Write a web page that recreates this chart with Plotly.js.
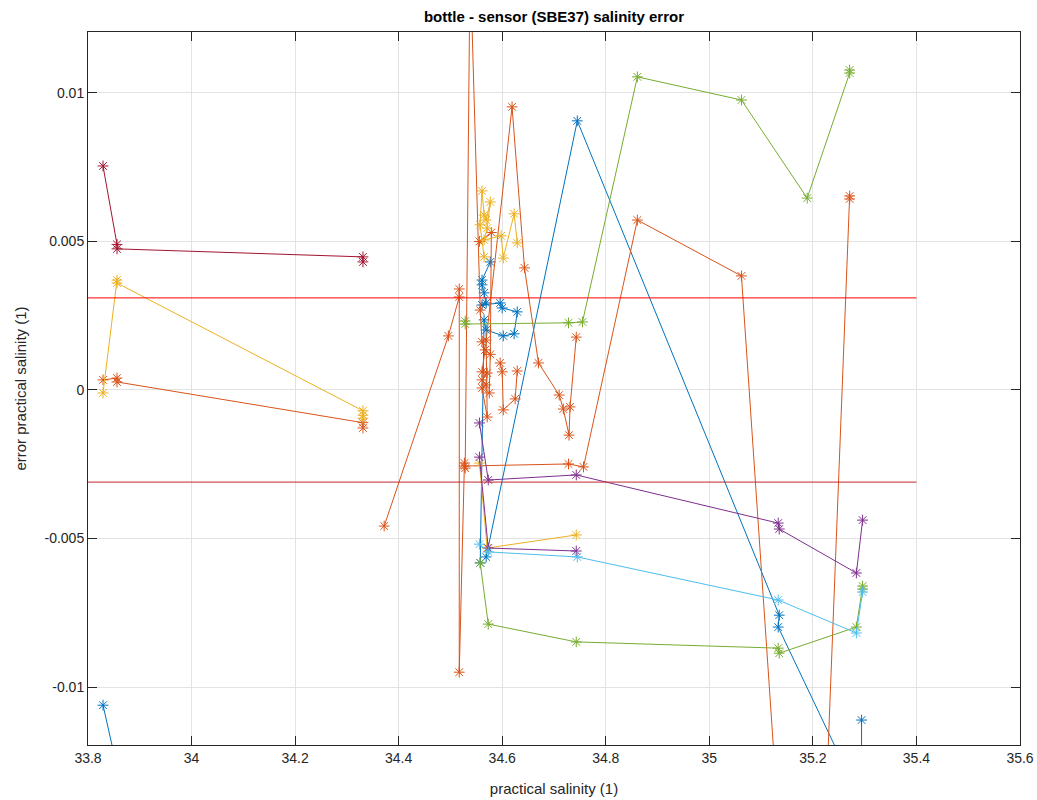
<!DOCTYPE html>
<html>
<head>
<meta charset="utf-8">
<script src="https://cdn.plot.ly/plotly-3.0.1.min.js"></script>
<style>html,body{margin:0;padding:0;background:#fff}#chart{width:1037px;height:800px}</style>
</head>
<body>
<div id="chart"></div>
<script>
// ---- data (practical salinity, salinity error) ----
const darkRedX = [33.829, 33.856, 33.856, 34.331, 34.331];
const darkRedY = [0.00754, 0.00490, 0.00475, 0.00448, 0.00431];

const yellowLeftX = [33.829, 33.856, 33.856, 34.331, 34.331, 34.331];
const yellowLeftY = [-0.00010, 0.00370, 0.00360, -0.00070, -0.00085, -0.00095];

const orangeLeftX = [33.829, 33.856, 33.856, 34.331, 34.331];
const orangeLeftY = [0.00034, 0.00040, 0.00027, -0.00110, -0.00128];

const orangeAX = [34.372, 34.496, 34.517, 34.517, 34.517, 34.527, 34.527, 34.728, 34.757, 34.861, 35.062, 35.191, 35.271, 35.271];
const orangeAY = [-0.00458, 0.00182, 0.00313, 0.00340, -0.00950, -0.00246, -0.00256, -0.00249, -0.00259, 0.00572, 0.00384, -0.02930, 0.00643, 0.00653];

const orangeBX = [34.5285, 34.538, 34.5575, 34.561, 34.567, 34.561, 34.571, 34.561, 34.569, 34.561, 34.571, 34.569, 34.619, 34.643, 34.670, 34.710, 34.718, 34.729, 34.731, 34.743];
const orangeBY = [-0.00263, 0.01448, 0.00269, 0.00162, 0.00135, 0.00061, 0.00057, 0.00034, 0.00017, 0.00007, -0.00091, 0.00168, 0.00953, 0.00411, 0.00091, -0.00017, -0.00064, -0.00152, -0.00057, 0.00178];

const orangeCX = [34.596, 34.600, 34.602, 34.625, 34.629];
const orangeCY = [0.00091, 0.00061, -0.00067, -0.00030, 0.00064];

const orangeDX = [34.556, 34.579, 34.577, 34.575];
const orangeDY = [0.00500, 0.00530, 0.00120, -0.00010];

const yellowMidX = [34.565, 34.557, 34.561, 34.565, 34.569, 34.577, 34.571, 34.565, 34.598, 34.602, 34.623, 34.629];
const yellowMidY = [0.00448, 0.00556, 0.00670, 0.00589, 0.00572, 0.00633, 0.00545, 0.00505, 0.00519, 0.00444, 0.00593, 0.00495];

const yellowLowX = [34.556, 34.571, 34.743];
const yellowLowY = [-0.00246, -0.00532, -0.00488];

const blueMainX = [34.577, 34.561, 34.561, 34.565, 34.569, 34.561, 34.596, 34.600, 34.629, 34.623, 34.602, 34.569, 34.565, 34.5575, 34.569, 34.745, 35.135, 35.133, 35.294, 35.294];
const blueMainY = [0.00431, 0.00370, 0.00354, 0.00327, 0.00293, 0.00286, 0.00293, 0.00276, 0.00263, 0.00189, 0.00182, 0.00202, 0.00236, -0.00582, -0.00562, 0.00906, -0.00758, -0.00798, -0.01387, -0.01111];

const blueLeftX = [33.829, 33.856];
const blueLeftY = [-0.01061, -0.01270];

const lightBlueX = [34.556, 34.573, 34.745, 35.133, 35.284, 35.296];
const lightBlueY = [-0.00519, -0.00545, -0.00562, -0.00707, -0.00818, -0.00680];

const purpleAX = [34.556, 34.573, 34.743, 35.133, 35.135, 35.284, 35.296];
const purpleAY = [-0.00111, -0.00303, -0.00286, -0.00448, -0.00468, -0.00616, -0.00438];

const purpleBX = [34.556, 34.573, 34.743];
const purpleBY = [-0.00226, -0.00532, -0.00542];

const greenAX = [34.5285, 34.5285, 34.728, 34.755, 34.861, 35.062, 35.189, 35.271, 35.271];
const greenAY = [0.00232, 0.00222, 0.00226, 0.00229, 0.01054, 0.00976, 0.00646, 0.01067, 0.01077];

const greenBX = [34.5575, 34.573, 34.743, 35.133, 35.135, 35.284, 35.296, 35.296];
const greenBY = [-0.00582, -0.00788, -0.00848, -0.00869, -0.00886, -0.00798, -0.00660, -0.00670];

const limitX = [33.8, 35.4];
const upperLimit = 0.0031;
const lowerLimit = -0.0031;

const xTickVals = [33.8, 34, 34.2, 34.4, 34.6, 34.8, 35, 35.2, 35.4, 35.6];
const xTickText = ['33.8', '34', '34.2', '34.4', '34.6', '34.8', '35', '35.2', '35.4', '35.6'];
const yTickVals = [-0.01, -0.005, 0, 0.005, 0.01];
const yTickText = ['-0.01', '-0.005', '0', '0.005', '0.01'];

// ---- colours ----
const C = {
  blue: '#0072BD', orange: '#D95319', yellow: '#EDB120', purple: '#7E2F8E',
  green: '#77AC30', lightblue: '#4DBEEE', darkred: '#A2142F'
};

function series(x, y, color) {
  return {
    x: x, y: y, type: 'scatter', mode: 'lines+markers',
    line: {color: color, width: 1},
    marker: {symbol: 'asterisk-open', size: 9, color: color, line: {color: color, width: 1}},
    showlegend: false, hoverinfo: 'x+y', cliponaxis: true
  };
}

const traces = [
  series(blueLeftX, blueLeftY, C.blue),
  series(orangeLeftX, orangeLeftY, C.orange),
  series(yellowLeftX, yellowLeftY, C.yellow),
  series(darkRedX, darkRedY, C.darkred),
  series(blueMainX, blueMainY, C.blue),
  series(orangeAX, orangeAY, C.orange),
  series(orangeBX, orangeBY, C.orange),
  series(orangeCX, orangeCY, C.orange),
  series(orangeDX, orangeDY, C.orange),
  series(yellowMidX, yellowMidY, C.yellow),
  series(yellowLowX, yellowLowY, C.yellow),
  series(purpleAX, purpleAY, C.purple),
  series(purpleBX, purpleBY, C.purple),
  series(greenAX, greenAY, C.green),
  series(greenBX, greenBY, C.green),
  series(lightBlueX, lightBlueY, C.lightblue),
  {x: limitX, y: [upperLimit, upperLimit], type: 'scatter', mode: 'lines',
   line: {color: '#ff0000', width: 1}, showlegend: false, hoverinfo: 'skip'},
  {x: limitX, y: [lowerLimit, lowerLimit], type: 'scatter', mode: 'lines',
   line: {color: '#c0282a', width: 1}, showlegend: false, hoverinfo: 'skip'}
];

const axisCommon = {
  showline: true, linecolor: '#262626', linewidth: 1, mirror: 'ticks',
  ticks: 'inside', ticklen: 9, tickcolor: '#262626', tickwidth: 1,
  showgrid: true, gridcolor: '#e3e3e3', gridwidth: 1, zeroline: false,
  tickfont: {family: 'Liberation Sans, Arial, sans-serif', size: 14, color: '#262626'}
};

const layout = {
  width: 1037, height: 800,
  margin: {l: 88, r: 17, t: 32, b: 55, pad: 0},
  paper_bgcolor: '#ffffff', plot_bgcolor: '#ffffff',
  title: {text: '<b>bottle - sensor (SBE37) salinity error</b>', x: 0.5, xanchor: 'center', xref: 'paper',
          y: 0.979, yanchor: 'middle',
          font: {family: 'Liberation Sans, Arial, sans-serif', size: 15, color: '#000000'}},
  xaxis: Object.assign({}, axisCommon, {
    range: [33.8, 35.6], tickvals: xTickVals, ticktext: xTickText,
    title: {text: 'practical salinity (1)', standoff: 18,
            font: {family: 'Liberation Sans, Arial, sans-serif', size: 15, color: '#262626'}}
  }),
  yaxis: Object.assign({}, axisCommon, {
    range: [-0.01195, 0.01205], tickvals: yTickVals, ticktext: yTickText,
    title: {text: 'error practical salinity (1)', standoff: 14,
            font: {family: 'Liberation Sans, Arial, sans-serif', size: 15, color: '#262626'}}
  }),
  showlegend: false
};

Plotly.newPlot('chart', traces, layout, {displayModeBar: false, staticPlot: true});
</script>
</body>
</html>
